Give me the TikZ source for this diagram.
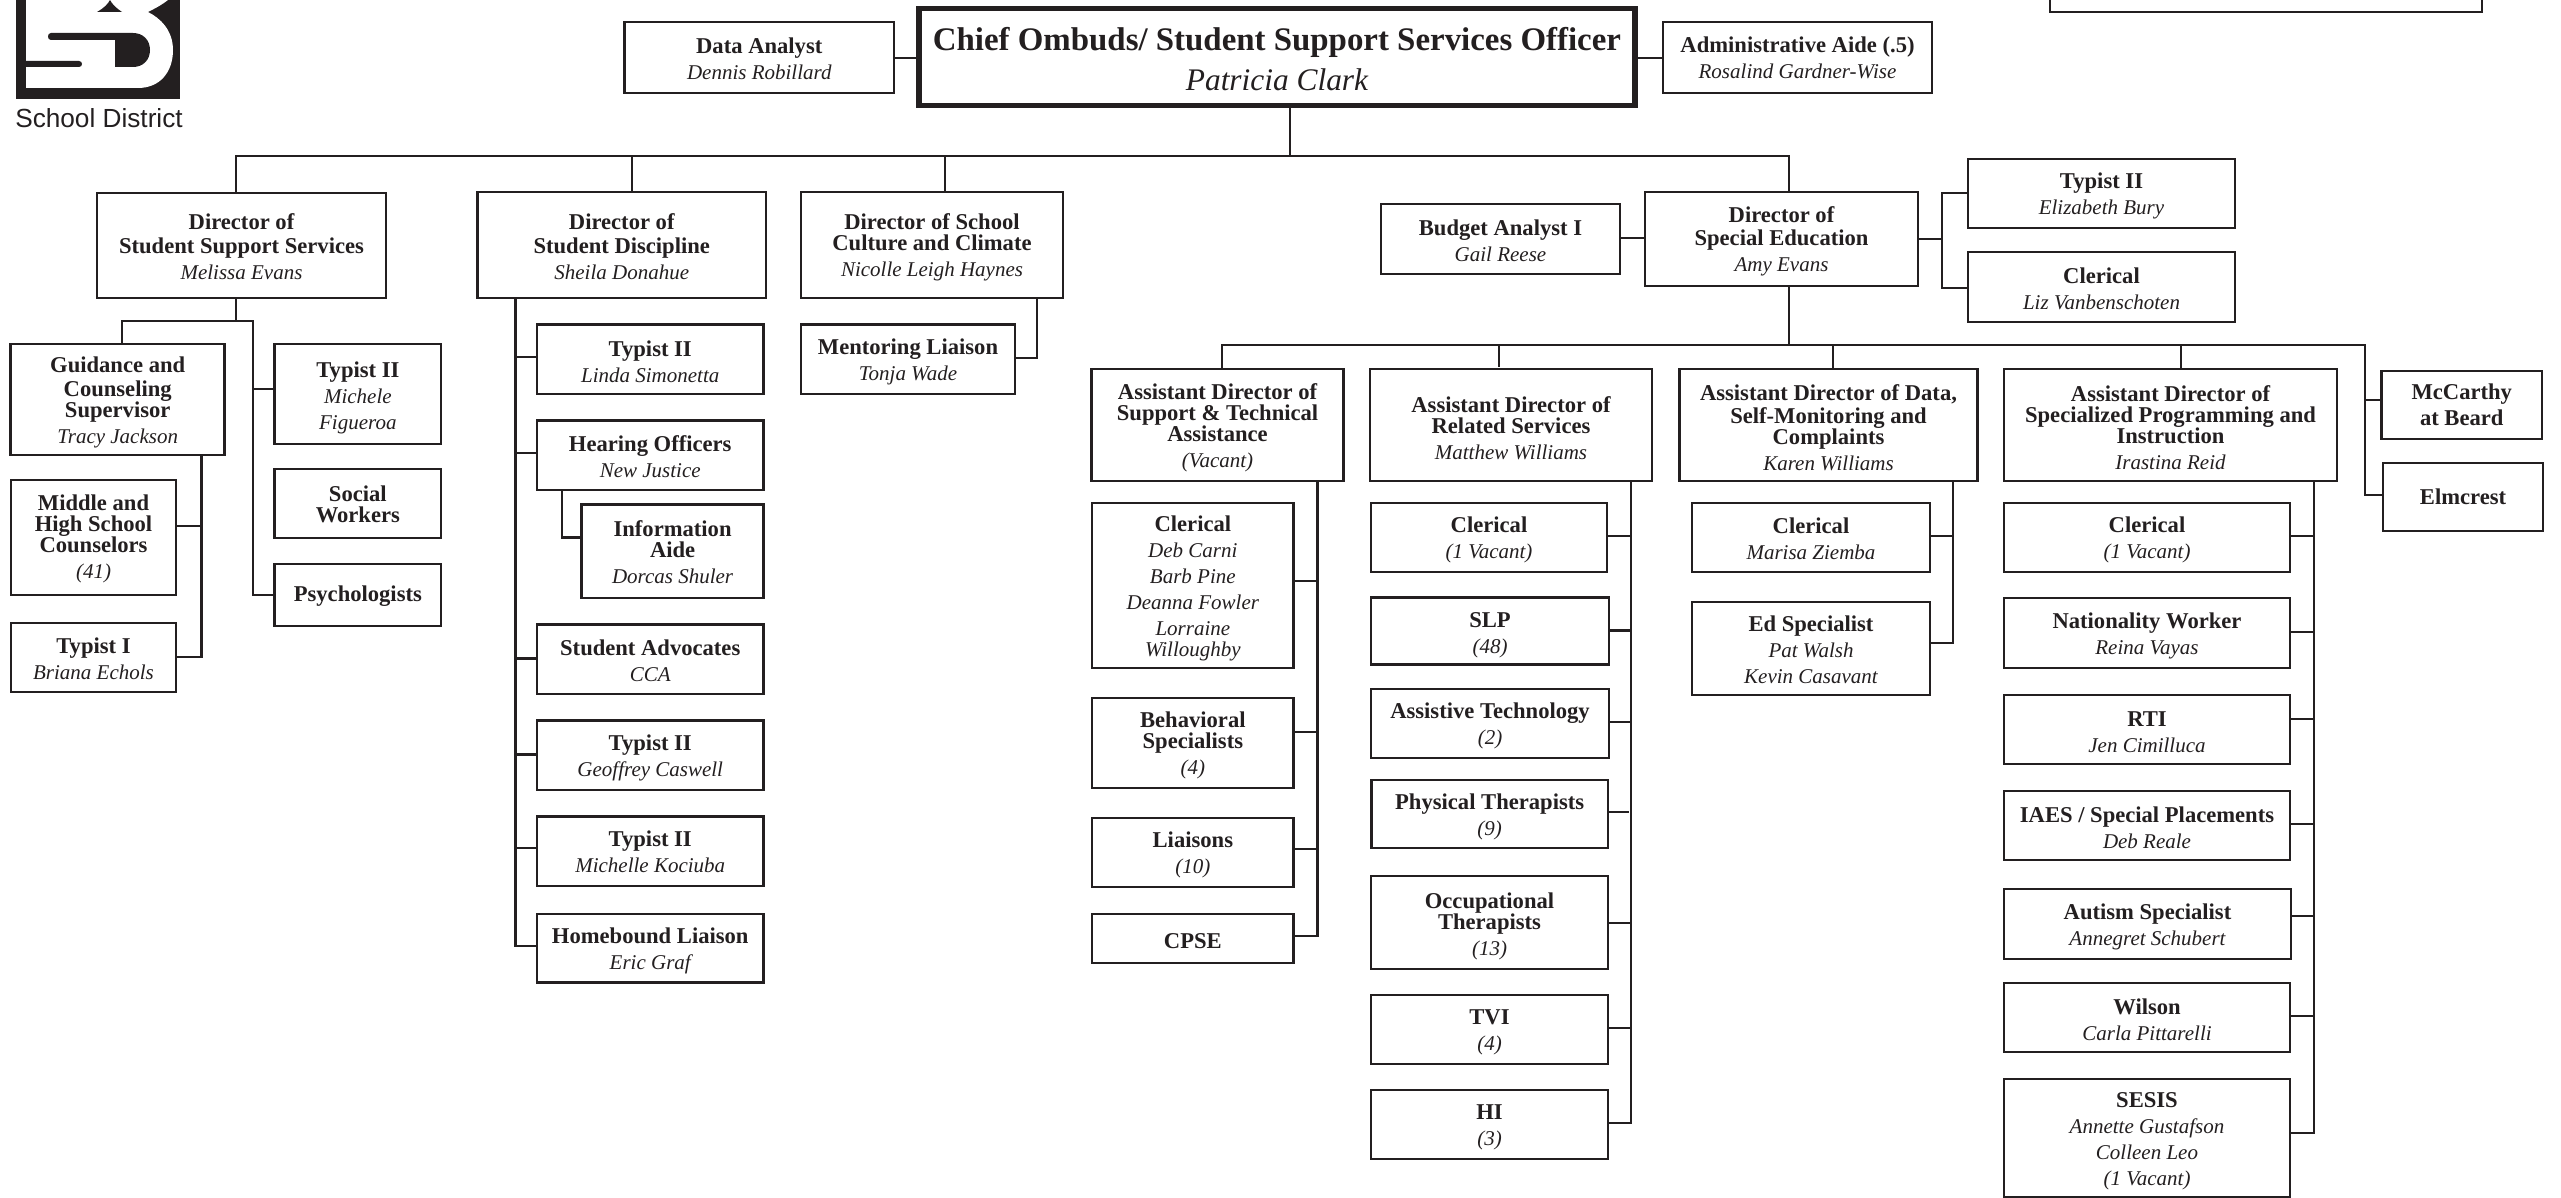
\documentclass[tikz,border=0pt]{standalone}
\usepackage{fontspec}
\setmainfont{Liberation Serif}
\newfontfamily\logosans{Liberation Sans}
\definecolor{ink}{HTML}{231F20}
\newcommand\Bt[1]{{\fontsize{11.3}{10.5}\selectfont\bfseries #1}}
\newcommand\Nm[1]{{\fontsize{10.5}{10.5}\selectfont\itshape #1}}
\newcommand\gp{\\[2.5pt]}
\newcommand\gq{\\[1.4pt]}
\tikzset{
  x=0.5pt,y=-0.5pt,
  orgbox/.style={draw=ink,line width=1.4pt,fill=white,rectangle,inner sep=0pt,outer sep=0pt,text=ink},
  conn/.style={draw=ink,line width=1.3pt,line cap=rect},
}
% \bx[dy in px]{name}{x0}{y0}{x1}{y1}{text}
\newcommand\bx[7][0]{%
  \node[orgbox,minimum width={(#5-#3)*0.5pt},minimum height={(#6-#4)*0.5pt}] (#2) at ({(#3+#5)/2},{(#4+#6)/2})
  {\smash{\raisebox{\dimexpr-#1pt*1/2-3.9pt\relax}{\makebox[0pt]{\parbox[c]{400pt}{\centering\lineskiplimit=-20pt\baselineskip=10.5pt #7}}}}};}
\newcommand\tap[3]{\draw[conn] (#1 |- 0,#3) -- (#2 |- 0,#3);}
\begin{document}
\begin{tikzpicture}
\useasboundingbox (0,0) rectangle (2561,1198);
% logo
\fill[ink] (16,0) rectangle (180,99);
\fill[white] (26,0) -- (26,88) -- (138,88) .. controls (160,88) and (173,72) .. (173,50) .. controls (173,30) and (160,18) .. (148,12) .. controls (156,8) and (163,4) .. (168,0) -- cycle;
\fill[ink] (97,12) .. controls (104,8) and (108,4) .. (110,0) .. controls (112,4) and (116,8) .. (122,12) -- cycle;
\fill[ink] (51,33) -- (133,33) .. controls (143,33) and (150,40) .. (150,50) .. controls (150,60) and (143,67) .. (133,67) -- (115,67) -- (115,40) -- (51,40) .. controls (47,40) and (47,33) .. (51,33) -- cycle;
\fill[ink] (26,61) -- (79,61) .. controls (83,61) and (83,67) .. (79,67) -- (26,67) -- cycle;
\node[inner sep=0pt,text=ink,font=\logosans\fontsize{13.1}{14}\selectfont] (schoolname) at (99,118) {School District};
% cropped box top right
\draw[ink,line width=1.4pt] (2050,0) -- (2050,12) -- (2482,12) -- (2482,0);

% top row
\bx[-2]{da}{624.5}{22}{894}{93}{\Bt{Data Analyst}\gp\Nm{Dennis Robillard}}
\node[orgbox,line width=2.8pt,minimum width=358pt,minimum height=48.5pt] (chief) at (1277,57)
 {\smash{\raisebox{-3.6pt}{\makebox[0pt]{\parbox[c]{400pt}{\centering\lineskiplimit=-20pt\baselineskip=20pt {\fontsize{16.45}{20}\selectfont\bfseries Chief Ombuds/ Student Support Services Officer}\\{\fontsize{15.7}{20}\selectfont\itshape Patricia Clark}}}}}};
\bx[-2]{aa}{1663}{22}{1932}{93}{\Bt{Administrative Aide (.5)}\gp\Nm{Rosalind Gardner-Wise}}
\draw[conn] (da.east |- 0,58) -- (chief.west |- 0,58);
\draw[conn] (chief.east |- 0,58) -- (aa.west |- 0,58);

% directors
\bx[-1.5]{dsss}{97}{193}{386}{298}{\Bt{Director of}\gq\Bt{Student Support Services}\gp\Nm{Melissa Evans}}
\bx[-1.5]{dsd}{477.5}{192}{766}{298}{\Bt{Director of}\gq\Bt{Student Discipline}\gp\Nm{Sheila Donahue}}
\bx{dscc}{801}{192}{1063}{298}{\Bt{Director of School}\\\Bt{Culture and Climate}\gp\Nm{Nicolle Leigh Haynes}}
\bx[-0.5]{dse}{1645}{192}{1918}{286}{\Bt{Director of}\gq\Bt{Special Education}\gp\Nm{Amy Evans}}
\coordinate (railL) at (236,156);
\coordinate (railR) at (1789,156);
\draw[conn] (chief.south -| 1290,0) -- (1290,156);
\draw[conn] (dsss.north -| railL) -- (railL) -- (railR) -- (dse.north -| railR);
\draw[conn] (632,156) -- (dsd.north -| 632,0);
\draw[conn] (945,156) -- (dscc.north -| 945,0);

\bx{ml}{801}{324.5}{1015}{394}{\Bt{Mentoring Liaison}\gp\Nm{Tonja Wade}}
\draw[conn] (dscc.south -| 1037,0) -- (1037,358) -- (ml.east |- 0,358);

\bx[-1]{ba}{1381}{204}{1620}{274}{\Bt{Budget Analyst I}\gp\Nm{Gail Reese}}
\bx{tb}{1968}{159}{2235}{228}{\Bt{Typist II}\gp\Nm{Elizabeth Bury}}
\bx[-1]{cl}{1968}{252}{2235}{322}{\Bt{Clerical}\gp\Nm{Liz Vanbenschoten}}
\draw[conn] (ba.east |- 0,238) -- (dse.west |- 0,238);
\draw[conn] (dse.east |- 0,239) -- (1942,239);
\draw[conn] (tb.west |- 0,193) -- (1942,193) -- (1942,288) -- (cl.west |- 0,288);

% student support services children
\bx{gcs}{10.7}{344}{224.7}{455}{\Bt{Guidance and}\gq\Bt{Counseling}\\\Bt{Supervisor}\gp\Nm{Tracy Jackson}}
\bx[-1]{mhs}{11}{480}{176}{595}{\Bt{Middle and}\\\Bt{High School}\\\Bt{Counselors}\gp\Nm{(41)}}
\bx[-2]{tp1}{11}{623}{176}{692}{\Bt{Typist I}\gp\Nm{Briana Echols}}
\bx[1]{tmf}{274.7}{344}{441}{444}{\Bt{Typist II}\gp\Nm{Michele}\gp\Nm{Figueroa}}
\bx[-2]{sw}{274.7}{469}{441}{538}{\Bt{Social}\\\Bt{Workers}}
\bx[-1.5]{psy}{274.7}{564}{441}{626}{\Bt{Psychologists}}
\coordinate (s1) at (253,595);
\draw[conn] (dsss.south -| 236,0) -- (236,321);
\draw[conn] (gcs.north -| 122,0) -- (122,321) -- (253,321) -- (s1) -- (psy.west |- s1);
\tap{s1}{tmf.west}{389}
\coordinate (s2) at (201.7,657);
\draw[conn] (gcs.south -| s2) -- (s2) -- (tp1.east |- s2);
\tap{mhs.east}{s2}{526}

% discipline children
\bx{t1}{537}{324.5}{763.5}{394}{\Bt{Typist II}\gp\Nm{Linda Simonetta}}
\bx[-1.5]{ho}{537}{420.5}{763.5}{490}{\Bt{Hearing Officers}\gp\Nm{New Justice}}
\bx[-1.5]{ia}{581.7}{504.5}{763.5}{598}{\Bt{Information}\\\Bt{Aide}\gp\Nm{Dorcas Shuler}}
\bx[-1]{sa}{537}{624.5}{763.5}{694}{\Bt{Student Advocates}\gp\Nm{CCA}}
\bx{t2}{537}{720.5}{763.5}{790}{\Bt{Typist II}\gp\Nm{Geoffrey Caswell}}
\bx[-2]{t3}{537}{816.5}{763.5}{886}{\Bt{Typist II}\gp\Nm{Michelle Kociuba}}
\bx{hl}{537}{914}{763.5}{982.6}{\Bt{Homebound Liaison}\gp\Nm{Eric Graf}}
\coordinate (s3) at (515.5,946);
\draw[conn] (dsd.south -| s3) -- (s3) -- (hl.west |- s3);
\tap{s3}{t1.west}{357}
\tap{s3}{ho.west}{453}
\tap{s3}{sa.west}{658.5}
\tap{s3}{t2.west}{754.5}
\tap{s3}{t3.west}{848}
\draw[conn] (ho.south -| 561.8,0) -- (561.8,537.5) -- (ia.west |- 0,537.5);

% assistant directors
\bx{ad1}{1091.6}{369}{1343.5}{481}{\Bt{Assistant Director of}\\\Bt{Support \& Technical}\\\Bt{Assistance}\gp\Nm{(Vacant)}}
\bx{ad2}{1370}{369}{1652}{481}{\Bt{Assistant Director of}\\\Bt{Related Services}\gp\Nm{Matthew Williams}}
\bx{ad3}{1679.5}{369}{1977.5}{481}{\Bt{Assistant Director of Data,}\gq\Bt{Self-Monitoring and}\\\Bt{Complaints}\gp\Nm{Karen Williams}}
\bx{ad4}{2004}{369}{2337}{481}{\Bt{Assistant Director of}\\\Bt{Specialized Programming and}\\\Bt{Instruction}\gp\Nm{Irastina Reid}}
\bx[-3]{mc}{2381.5}{371}{2542}{439}{\Bt{McCarthy}\gp\Bt{at Beard}}
\bx[-3]{el}{2383}{463}{2543}{531}{\Bt{Elmcrest}}
\coordinate (r2L) at (1222,345);
\coordinate (r2R) at (2365,345);
\draw[conn] (dse.south -| 1789,0) -- (1789,345);
\draw[conn] (ad1.north -| r2L) -- (r2L) -- (r2R) -- (2365,495) -- (el.west |- 0,495);
\draw[conn] (1499,345) -- (1499,366);
\draw[conn] (1833,345) -- (ad3.north -| 1833,0);
\draw[conn] (2181,345) -- (ad4.north -| 2181,0);
\draw[conn] (2365,400) -- (mc.west |- 0,400);

% AD1 children
\bx{c1}{1092}{503}{1293.7}{668}{\Bt{Clerical}\gp\Nm{Deb Carni}\gp\Nm{Barb Pine}\gp\Nm{Deanna Fowler}\gp\Nm{Lorraine}\\\Nm{Willoughby}}
\bx{bs}{1092}{698}{1293.7}{788}{\Bt{Behavioral}\\\Bt{Specialists}\gp\Nm{(4)}}
\bx{li}{1092}{818}{1293.7}{887}{\Bt{Liaisons}\gp\Nm{(10)}}
\bx{cp}{1092}{914}{1293.7}{963}{\Bt{CPSE}}
\coordinate (s4) at (1317.4,936);
\draw[conn] (ad1.south -| s4) -- (s4) -- (cp.east |- s4);
\tap{c1.east}{s4}{581}
\tap{bs.east}{s4}{732}
\tap{li.east}{s4}{849}

% AD2 children
\bx{c2}{1371}{503}{1607}{572}{\Bt{Clerical}\gp\Nm{(1 Vacant)}}
\bx[1]{sl}{1371}{597.5}{1609}{664.5}{\Bt{SLP}\gp\Nm{(48)}}
\bx{at}{1371}{689}{1609}{758}{\Bt{Assistive Technology}\gp\Nm{(2)}}
\bx{pt}{1371.3}{780}{1608}{848}{\Bt{Physical Therapists}\gp\Nm{(9)}}
\bx[1]{ot}{1371}{876}{1608}{969}{\Bt{Occupational}\\\Bt{Therapists}\gp\Nm{(13)}}
\bx{tv}{1371}{995}{1608}{1064}{\Bt{TVI}\gp\Nm{(4)}}
\bx{hi}{1371}{1090}{1608}{1159}{\Bt{HI}\gp\Nm{(3)}}
\coordinate (s5) at (1631,1123);
\draw[conn] (ad2.south -| s5) -- (s5) -- (hi.east |- s5);
\tap{c2.east}{s5}{536}
\tap{sl.east}{s5}{630.6}
\tap{at.east}{s5}{722}
\draw[conn] (pt.east |- 0,812) -- (1628,812);
\tap{ot.east}{s5}{923}
\tap{tv.east}{s5}{1028}

% AD3 children
\bx[-1.5]{c3}{1692}{503}{1930}{572}{\Bt{Clerical}\gp\Nm{Marisa Ziemba}}
\bx[-2]{es}{1692}{602}{1930}{695}{\Bt{Ed Specialist}\gp\Nm{Pat Walsh}\gp\Nm{Kevin Casavant}}
\coordinate (s6) at (1953,643);
\draw[conn] (ad3.south -| s6) -- (s6) -- (es.east |- s6);
\tap{c3.east}{s6}{536}

% AD4 children
\bx{c4}{2004}{503}{2290}{572}{\Bt{Clerical}\gp\Nm{(1 Vacant)}}
\bx{nw}{2004}{598}{2290}{668}{\Bt{Nationality Worker}\gp\Nm{Reina Vayas}}
\bx{rt}{2004}{695}{2290}{764}{\Bt{RTI}\gp\Nm{Jen Cimilluca}}
\bx[-1]{ie}{2004}{791}{2290}{860}{\Bt{IAES / Special Placements}\gp\Nm{Deb Reale}}
\bx{au}{2004}{889}{2291}{959}{\Bt{Autism Specialist}\gp\Nm{Annegret Schubert}}
\bx[-1]{wi}{2004}{983}{2290}{1052}{\Bt{Wilson}\gp\Nm{Carla Pittarelli}}
\bx{se}{2004}{1079}{2290}{1197}{\Bt{SESIS}\gp\Nm{Annette Gustafson}\gp\Nm{Colleen Leo}\gp\Nm{(1 Vacant)}}
\coordinate (s7) at (2314,1133);
\draw[conn] (ad4.south -| s7) -- (s7) -- (se.east |- s7);
\tap{c4.east}{s7}{536}
\tap{nw.east}{s7}{632}
\tap{rt.east}{s7}{719}
\tap{ie.east}{s7}{824}
\tap{au.east}{s7}{916}
\tap{wi.east}{s7}{1016}
\end{tikzpicture}
\end{document}
